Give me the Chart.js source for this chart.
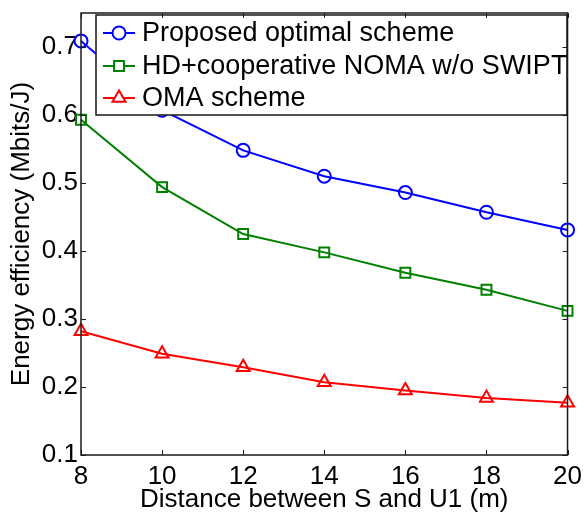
<!DOCTYPE html>
<html>
<head>
<meta charset="utf-8">
<script src="https://cdn.jsdelivr.net/npm/chart.js@4"></script>
<style>
  body { margin: 0; background: #fff; }
</style>
</head>
<body>
<canvas id="ee" width="588" height="513"></canvas>
<script>
// distance between S and U1 (m)
const distances = [8, 10, 12, 14, 16, 18, 20];
// energy efficiency (Mbits/J) per scheme
const proposed = [0.709, 0.607, 0.548, 0.510, 0.486, 0.457, 0.431];
const hdNoma = [0.593, 0.494, 0.425, 0.398, 0.368, 0.343, 0.312];
const oma = [0.282, 0.249, 0.229, 0.207, 0.195, 0.184, 0.177];

const seriesNames = [
  "Proposed optimal scheme",
  "HD+cooperative NOMA w/o SWIPT",
  "OMA scheme",
];

const xTicks = [8, 10, 12, 14, 16, 18, 20];
const yTicks = [0.1, 0.2, 0.3, 0.4, 0.5, 0.6, 0.7];

const FONT = "'Liberation Sans', Arial, sans-serif";

const toPoints = (vals) => vals.map((v, i) => ({ x: distances[i], y: v }));

function makeSet(label, vals, color, style, radius) {
  return {
    label: label,
    data: toPoints(vals),
    borderColor: color,
    backgroundColor: "rgba(0,0,0,0)",
    borderWidth: 2,
    pointStyle: style,
    pointRadius: radius,
    pointBorderWidth: 2,
    pointBorderColor: color,
    pointBackgroundColor: "rgba(0,0,0,0)",
    tension: 0,
    clip: false,
  };
}

// frame + inward ticks like matlab
const framePlugin = {
  id: "frame",
  afterDraw(chart) {
    const ctx = chart.ctx;
    const a = chart.chartArea;
    const xs = chart.scales.x;
    const ys = chart.scales.y;
    ctx.save();
    ctx.strokeStyle = "#1a1a1a";
    ctx.lineWidth = 1.5;
    ctx.strokeRect(a.left, a.top, a.right - a.left, a.bottom - a.top);
    ctx.lineWidth = 1;
    ctx.beginPath();
    xTicks.forEach((t) => {
      const px = Math.round(xs.getPixelForValue(t)) + 0.5;
      ctx.moveTo(px, a.bottom);
      ctx.lineTo(px, a.bottom - 5);
      ctx.moveTo(px, a.top);
      ctx.lineTo(px, a.top + 5);
    });
    yTicks.forEach((t) => {
      const py = Math.round(ys.getPixelForValue(t)) + 0.5;
      ctx.moveTo(a.left, py);
      ctx.lineTo(a.left + 5, py);
      ctx.moveTo(a.right, py);
      ctx.lineTo(a.right - 5, py);
    });
    ctx.stroke();
    ctx.restore();
  },
};

// legend box inside the plot
const legendPlugin = {
  id: "boxLegend",
  afterDatasetsDraw(chart) {
    const ctx = chart.ctx;
    const box = { x: 96, y: 15, w: 471, h: 100 };
    ctx.save();
    ctx.fillStyle = "#fff";
    ctx.fillRect(box.x, box.y, box.w, box.h);
    ctx.strokeStyle = "#1a1a1a";
    ctx.lineWidth = 1.5;
    ctx.strokeRect(box.x, box.y, box.w, box.h);
    const rows = [33, 66, 98];
    chart.data.datasets.forEach((ds, i) => {
      const y = rows[i];
      ctx.strokeStyle = ds.borderColor;
      ctx.lineWidth = 2;
      ctx.beginPath();
      ctx.moveTo(103, y);
      ctx.lineTo(135, y);
      ctx.stroke();
      ctx.fillStyle = "#fff";
      Chart.helpers.drawPoint(ctx, {
        pointStyle: ds.pointStyle,
        radius: ds.pointRadius,
        rotation: 0,
        borderWidth: 2,
      }, 119, y);
      ctx.fillStyle = "#000";
      ctx.font = "27px " + FONT;
      ctx.textBaseline = "middle";
      ctx.textAlign = "left";
      ctx.fillText(ds.label, 142, y + 1);
    });
    ctx.restore();
  },
};

const config = {
  type: "line",
  data: {
    datasets: [
      makeSet(seriesNames[0], proposed, "#0000ff", "circle", 6.5),
      makeSet(seriesNames[1], hdNoma, "#008000", "rect", 7),
      makeSet(seriesNames[2], oma, "#ff0000", "triangle", 7.5),
    ],
  },
  options: {
    responsive: false,
    animation: false,
    layout: { padding: { top: 0, right: 15, left: 0, bottom: 0 } },
    plugins: {
      legend: { display: false },
      tooltip: { enabled: false },
    },
    scales: {
      x: {
        type: "linear",
        min: 8,
        max: 20,
        afterBuildTicks: (s) => { s.ticks = xTicks.map((v) => ({ value: v })); },
        afterFit: (s) => { s.height = 58; },
        grid: { display: false, drawTicks: false },
        border: { display: false },
        ticks: {
          color: "#000",
          padding: 6,
          maxRotation: 0,
          font: { family: FONT, size: 26 },
        },
        title: {
          display: true,
          text: "Distance between S and U1 (m)",
          color: "#000",
          padding: { top: 0, bottom: -2 },
          font: { family: FONT, size: 26 },
        },
      },
      y: {
        type: "linear",
        min: 0.1,
        max: 0.75,
        afterBuildTicks: (s) => { s.ticks = yTicks.map((v) => ({ value: v })); },
        afterFit: (s) => { s.width = 81; },
        grid: { display: false, drawTicks: false },
        border: { display: false },
        ticks: {
          color: "#000",
          padding: 3,
          font: { family: FONT, size: 26, lineHeight: 0.77 },
          callback: (v) => Number(v).toFixed(1),
        },
        title: {
          display: true,
          text: "Energy efficiency (Mbits/J)",
          color: "#000",
          padding: { top: 6, bottom: 0 },
          font: { family: FONT, size: 26 },
        },
      },
    },
  },
  plugins: [legendPlugin, framePlugin],
};

const canvas = document.getElementById("ee");
new Chart(canvas, config);
</script>
</body>
</html>
